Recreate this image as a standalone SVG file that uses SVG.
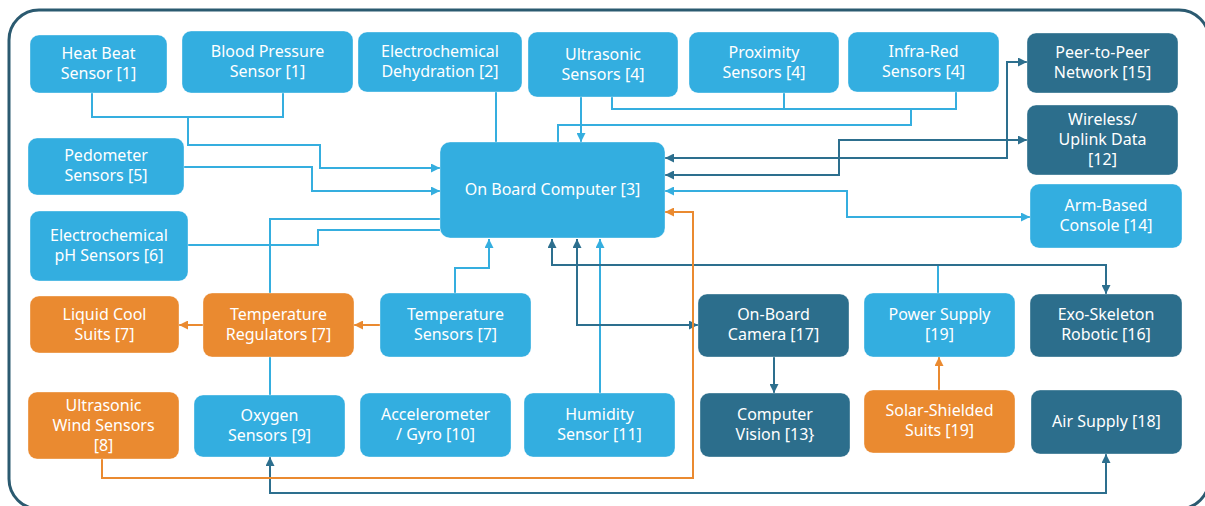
<svg xmlns="http://www.w3.org/2000/svg" width="1205" height="506" viewBox="0 0 1205 506">
<style>
.n rect{stroke:#ffffff;stroke-opacity:0.35;stroke-width:1}
.lb rect{fill:#33aee0}
.dk rect{fill:#2c6e8c}
.or rect{fill:#ea8a30}
.n text{font-family:"Noto Sans","Open Sans",sans-serif;font-size:16px;fill:#ffffff;text-anchor:middle}
.c path{fill:none;stroke-width:2}
.c .l{stroke:#35aedf}
.c .d{stroke:#2d6f8e}
.c .o{stroke:#ea8a30}
</style>
<defs>
<marker id="al" viewBox="0 0 10 10" refX="10" refY="5" markerWidth="9" markerHeight="9" markerUnits="userSpaceOnUse" orient="auto-start-reverse"><path d="M0,0 L10,5 L0,10 z" fill="#35aedf"/></marker>
<marker id="ad" viewBox="0 0 10 10" refX="10" refY="5" markerWidth="9" markerHeight="9" markerUnits="userSpaceOnUse" orient="auto-start-reverse"><path d="M0,0 L10,5 L0,10 z" fill="#2d6f8e"/></marker>
<marker id="ao" viewBox="0 0 10 10" refX="10" refY="5" markerWidth="9" markerHeight="9" markerUnits="userSpaceOnUse" orient="auto-start-reverse"><path d="M0,0 L10,5 L0,10 z" fill="#ea8a30"/></marker>
</defs>
<rect x="0" y="0" width="1205" height="506" fill="#ffffff"/>
<rect x="9" y="10" width="1200" height="499" rx="30" fill="none" stroke="#2b5a70" stroke-width="3"/>
<g id="connectors" class="c">
<path class="l" d="M92,93 V117 H283 V93"/>
<path class="l" d="M188,117 V145 H320 V168 H440" marker-end="url(#al)"/>
<path class="l" d="M184,167 H312 V191 H440" marker-end="url(#al)"/>
<path class="l" d="M188,245 H318 V230 H440"/>
<path class="l" d="M270,395 V219 H440"/>
<path class="l" d="M455,293 V268 H489 V239" marker-end="url(#al)"/>
<path class="l" d="M496,92 V142"/>
<path class="l" d="M581,97 V142" marker-end="url(#al)"/>
<path class="l" d="M612,97 V109 H956 V92"/>
<path class="l" d="M784,93 V109"/>
<path class="l" d="M911,109 V125 H558 V142"/>
<path class="l" d="M600,393 V239" marker-end="url(#al)"/>
<path class="l" d="M665,191 H847 V217 H1030" marker-start="url(#al)" marker-end="url(#al)"/>
<path class="l" d="M938,293 V265"/>
<path class="d" d="M665,158 H1007 V62 H1027" marker-start="url(#ad)" marker-end="url(#ad)"/>
<path class="d" d="M665,175 H839 V140 H1027" marker-start="url(#ad)" marker-end="url(#ad)"/>
<path class="d" d="M552,239 V265 H1106 V294" marker-start="url(#ad)" marker-end="url(#ad)"/>
<path class="d" d="M577,239 V325 H698" marker-start="url(#ad)" marker-end="url(#ad)"/>
<path class="d" d="M774,357 V393" marker-end="url(#ad)"/>
<path class="d" d="M270,457 V493 H1106 V454" marker-start="url(#ad)" marker-end="url(#ad)"/>
<path class="o" d="M102,459 V478 H693 V212 H665" marker-end="url(#ao)"/>
<path class="o" d="M380,325 H354" marker-end="url(#ao)"/>
<path class="o" d="M203,325 H179" marker-end="url(#ao)"/>
<path class="o" d="M939,390 V357" marker-end="url(#ao)"/>
</g>
<g id="heat-beat" class="n lb"><rect x="30" y="35" width="137" height="58" rx="9"/><text x="98.5" y="59">Heat Beat</text><text x="98.5" y="79">Sensor [1]</text></g>
<g id="blood-pressure" class="n lb"><rect x="182" y="31" width="171" height="62" rx="9"/><text x="267.5" y="57">Blood Pressure</text><text x="267.5" y="77">Sensor [1]</text></g>
<g id="dehydration" class="n lb"><rect x="358" y="32" width="164" height="60" rx="9"/><text x="440" y="57">Electrochemical</text><text x="440" y="77">Dehydration [2]</text></g>
<g id="ultrasonic" class="n lb"><rect x="528" y="32" width="150" height="65" rx="9"/><text x="603" y="60">Ultrasonic</text><text x="603" y="80">Sensors [4]</text></g>
<g id="proximity" class="n lb"><rect x="689" y="32" width="150" height="61" rx="9"/><text x="764" y="58">Proximity</text><text x="764" y="78">Sensors [4]</text></g>
<g id="infra-red" class="n lb"><rect x="848" y="32" width="151" height="60" rx="9"/><text x="923.5" y="57">Infra-Red</text><text x="923.5" y="77">Sensors [4]</text></g>
<g id="peer" class="n dk"><rect x="1027" y="33" width="151" height="60" rx="9"/><text x="1102.5" y="58">Peer-to-Peer</text><text x="1102.5" y="78">Network [15]</text></g>
<g id="wireless" class="n dk"><rect x="1027" y="105" width="151" height="70" rx="9"/><text x="1102.5" y="125">Wireless/</text><text x="1102.5" y="145">Uplink Data</text><text x="1102.5" y="165">[12]</text></g>
<g id="arm" class="n lb"><rect x="1030" y="184" width="152" height="64" rx="9"/><text x="1106" y="211">Arm-Based</text><text x="1106" y="231">Console [14]</text></g>
<g id="computer" class="n lb"><rect x="440" y="142" width="225" height="96" rx="10"/><text x="552.5" y="195">On Board Computer [3]</text></g>
<g id="pedometer" class="n lb"><rect x="28" y="138" width="156" height="57" rx="9"/><text x="106" y="161">Pedometer</text><text x="106" y="181">Sensors [5]</text></g>
<g id="ph" class="n lb"><rect x="30" y="211" width="158" height="70" rx="9"/><text x="109" y="241">Electrochemical</text><text x="109" y="261">pH Sensors [6]</text></g>
<g id="liquid" class="n or"><rect x="30" y="296" width="149" height="57" rx="9"/><text x="104.5" y="320">Liquid Cool</text><text x="104.5" y="340">Suits [7]</text></g>
<g id="regulators" class="n or"><rect x="203" y="293" width="151" height="64" rx="9"/><text x="278.5" y="320">Temperature</text><text x="278.5" y="340">Regulators [7]</text></g>
<g id="temp-sensors" class="n lb"><rect x="380" y="293" width="151" height="64" rx="9"/><text x="455.5" y="320">Temperature</text><text x="455.5" y="340">Sensors [7]</text></g>
<g id="wind" class="n or"><rect x="28" y="392" width="151" height="67" rx="9"/><text x="103.5" y="411">Ultrasonic</text><text x="103.5" y="431">Wind Sensors</text><text x="103.5" y="451">[8]</text></g>
<g id="oxygen" class="n lb"><rect x="194" y="395" width="151" height="62" rx="9"/><text x="269.5" y="421">Oxygen</text><text x="269.5" y="441">Sensors [9]</text></g>
<g id="accelerometer" class="n lb"><rect x="360" y="393" width="151" height="64" rx="9"/><text x="435.5" y="420">Accelerometer</text><text x="435.5" y="440">/ Gyro [10]</text></g>
<g id="humidity" class="n lb"><rect x="524" y="393" width="151" height="64" rx="9"/><text x="599.5" y="420">Humidity</text><text x="599.5" y="440">Sensor [11]</text></g>
<g id="camera" class="n dk"><rect x="698" y="294" width="151" height="63" rx="9"/><text x="773.5" y="320">On-Board</text><text x="773.5" y="340">Camera [17]</text></g>
<g id="vision" class="n dk"><rect x="700" y="393" width="150" height="64" rx="9"/><text x="775" y="420">Computer</text><text x="775" y="440">Vision [13}</text></g>
<g id="power" class="n lb"><rect x="864" y="293" width="151" height="64" rx="9"/><text x="939.5" y="320">Power Supply</text><text x="939.5" y="340">[19]</text></g>
<g id="exo" class="n dk"><rect x="1030" y="294" width="152" height="63" rx="9"/><text x="1106" y="320">Exo-Skeleton</text><text x="1106" y="340">Robotic [16]</text></g>
<g id="solar" class="n or"><rect x="864" y="390" width="151" height="63" rx="9"/><text x="939.5" y="416">Solar-Shielded</text><text x="939.5" y="436">Suits [19]</text></g>
<g id="air" class="n dk"><rect x="1031" y="390" width="151" height="64" rx="9"/><text x="1106.5" y="427">Air Supply [18]</text></g>
</svg>
